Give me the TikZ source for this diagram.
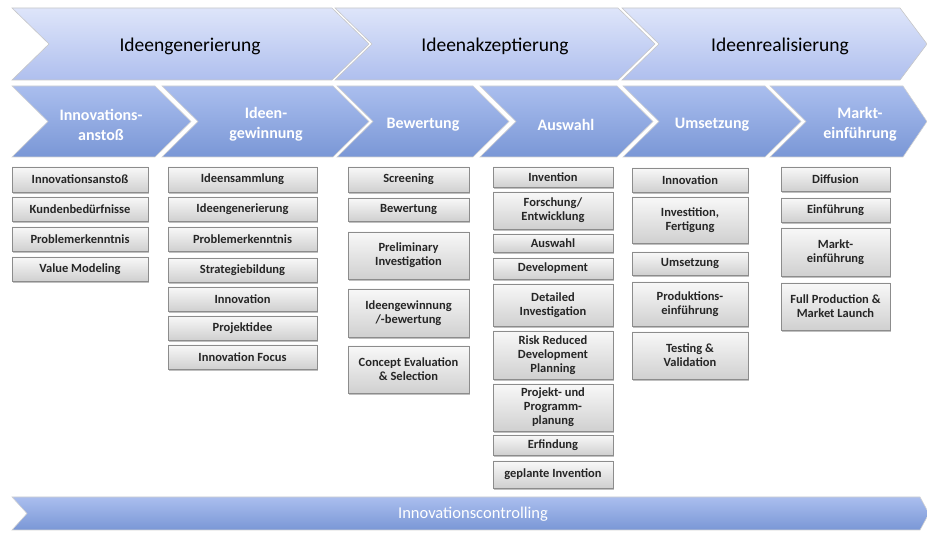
\documentclass[tikz,border=0pt]{standalone}
\usepackage{fontspec}
\setmainfont{Carlito}
\usetikzlibrary{shadows}
\definecolor{ctopa}{HTML}{DEE5FA}
\definecolor{ctopb}{HTML}{AFBFEE}
\definecolor{cmida}{HTML}{AABEEE}
\definecolor{cmidb}{HTML}{7A97D6}
\definecolor{cboxa}{HTML}{F8F8F8}
\definecolor{cboxb}{HTML}{D0D0D0}
\definecolor{cboxl}{HTML}{8C8C8C}
\tikzset{
  phase/.style={top color=ctopa, bottom color=ctopb, draw=black!22, line width=0.6pt},
  stage/.style={top color=cmida, bottom color=cmidb, draw=black!18, line width=0.6pt},
  phlab/.style={font=\fontsize{19.5}{22}\selectfont, text=black, align=center, inner sep=0pt},
  stlab/.style={font=\bfseries\fontsize{16}{20}\selectfont, text=white, align=center, inner sep=0pt},
  cbox/.style={draw=cboxl, line width=0.5pt, top color=cboxa, bottom color=cboxb,
    font=\bfseries\fontsize{12.5}{14}\selectfont, text=black!85, align=center, inner sep=1pt,
    drop shadow={shadow xshift=1.2pt, shadow yshift=-1.6pt, fill=black!45, opacity=0.55}},
}

\begin{document}
\begin{tikzpicture}[x=1pt, y=-1pt]
\useasboundingbox (0,0) rectangle (927,534);
\clip (0,0) rectangle (927,534);

% ================= phases =================
\foreach \xa/\xb/\d/\cx/\txt [count=\i] in {12/332/37/190/Ideengenerierung, 335/618/37/495/Ideenakzeptierung, 622/900/27/780/Ideenrealisierung}{
  \shade[phase] (\xa,8) -- (\xb,8) -- (\xb+\d,44) -- (\xb,80) -- (\xa,80) -- (\xa+37,44) -- cycle;
  \node[phlab] (ph\i) at (\cx,46.5) {\txt};
}

% ================= stages =================
\foreach \xa/\xb/\d/\cx/\txt [count=\i] in {12/155/36/101/{Innovations-\\ansto\ss}, 162/333/36/266/{Ideen-\\gewinnung}, 337/473/36/423/Bewertung, 480/617/36/566/Auswahl, 623/765/36/712/Umsetzung, 770/903/24/860/{Markt-\\einf\"uhrung}}{
  \shade[stage] (\xa,86) -- (\xb,86) -- (\xb+\d,121.5) -- (\xb,157) -- (\xa,157) -- (\xa+36,121.5) -- cycle;
  \node[stlab] (st\i) at (\cx,124.5) {\txt};
}

% ================= activities =================
\foreach \yt/\yb/\txt [count=\i] in {167/192/Innovationsansto\ss, 197/221/Kundenbed\"urfnisse, 227/251/Problemerkenntnis, 257/281/Value Modeling}{
  \node[cbox, minimum width=136pt, minimum height={(\yb-\yt)*1pt}] (anst\i) at (80,{(\yt+\yb)/2}) {\txt};
}
\foreach \yt/\yb/\txt [count=\i] in {167/192/Ideensammlung, 197/221/Ideengenerierung, 227/251/Problemerkenntnis, 258/282/Strategiebildung, 287/311/Innovation, 316/340/Projektidee, 345/369/Innovation Focus}{
  \node[cbox, minimum width=149pt, minimum height={(\yb-\yt)*1pt}] (gew\i) at (242.5,{(\yt+\yb)/2}) {\txt};
}
\foreach \yt/\yb/\txt [count=\i] in {167/192/Screening, 198/221/Bewertung, 232/279/{Preliminary\\Investigation}, 289/337/{Ideengewinnung\\/-bewertung}, 346/393/{Concept Evaluation\\\& Selection}}{
  \node[cbox, minimum width=121pt, minimum height={(\yb-\yt)*1pt}] (bew\i) at (408.5,{(\yt+\yb)/2}) {\txt};
}
\foreach \yt/\yb/\txt [count=\i] in {167/187/Invention, 192/229/{Forschung/\\Entwicklung}, 234/252/Auswahl, 258/279/Development, 284/326/{Detailed\\Investigation}, 331/379/{Risk Reduced\\Development\\Planning}, 384/431/{Projekt- und\\Programm-\\planung}, 435/455/Erfindung, 461/488/geplante Invention}{
  \node[cbox, minimum width=120pt, minimum height={(\yb-\yt)*1pt}] (ausw\i) at (553,{(\yt+\yb)/2}) {\txt};
}
\foreach \yt/\yb/\txt [count=\i] in {168/192/Innovation, 197/243/{Investition,\\Fertigung}, 252/275/Umsetzung, 282/326/{Produktions-\\einf\"uhrung}, 332/379/{Testing \&\\Validation}}{
  \node[cbox, minimum width=116pt, minimum height={(\yb-\yt)*1pt}] (ums\i) at (690,{(\yt+\yb)/2}) {\txt};
}
\foreach \yt/\yb/\txt [count=\i] in {167/191/Diffusion, 198/222/Einf\"uhrung, 228/276/{Markt-\\einf\"uhrung}, 283/330/{Full Production \&\\Market Launch}}{
  \node[cbox, minimum width=109pt, minimum height={(\yb-\yt)*1pt}] (mark\i) at (835.5,{(\yt+\yb)/2}) {\txt};
}

% ================= controlling =================
\shade[stage] (12,497) -- (920,497) -- (929,513.5) -- (920,530) -- (12,530) -- (27,513.5) -- cycle;
\node[font=\fontsize{16.5}{18}\selectfont, text=white, inner sep=0pt] (ctrl) at (473,514.5) {Innovationscontrolling};
\end{tikzpicture}
\end{document}
